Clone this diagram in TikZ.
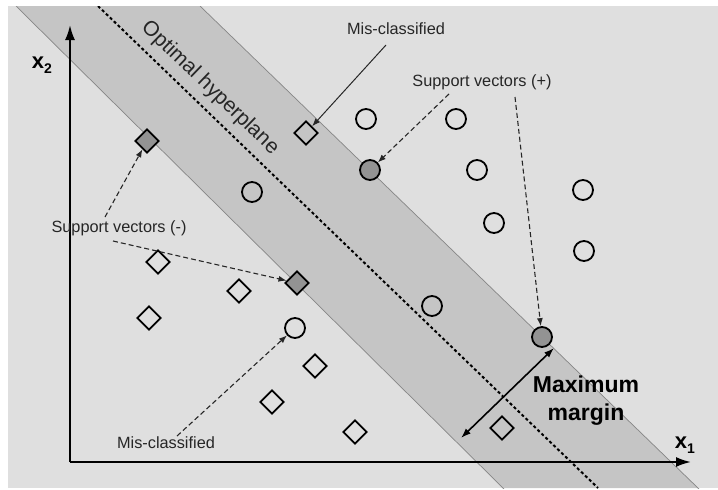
\documentclass[tikz,border=0pt]{standalone}
\usepackage{fontspec}
\setmainfont{Liberation Sans}
\usetikzlibrary{shapes.geometric,arrows.meta}
\definecolor{panel}{HTML}{DFDFDF}
\definecolor{bandc}{HTML}{C5C5C5}
\definecolor{edgec}{HTML}{868686}
\definecolor{svfill}{HTML}{939393}
\definecolor{txt}{HTML}{262626}
\begin{document}
\begin{tikzpicture}[x=1pt,y=-1pt,
  dia/.style={draw=black,line width=1.8pt,diamond,aspect=1,minimum size=24pt,inner sep=0pt},
  cir/.style={draw=black,line width=1.8pt,circle,minimum size=20pt,inner sep=0pt},
  sv/.style={fill=svfill},
  lbl/.style={text=txt,font=\fontsize{16.3}{18}\selectfont,inner sep=1pt},
  tip/.style={-{Latex[length=8pt,width=6pt]}},
  dsh/.style={tip,draw=txt,line width=1.1pt,dash pattern=on 5pt off 3pt},
  axis/.style={line width=2pt,-{Latex[length=15pt,width=10pt]}}]
\useasboundingbox (0,0) rectangle (718,490);
% panel
\fill[panel] (8,6) rectangle (718,488);
% band
\begin{scope}
\clip (8,6) rectangle (718,488);
\fill[bandc] (16,6) -- (200,6) -- (698,488) -- (503,488) -- cycle;
\draw[edgec,line width=0.7pt] (16,6) -- (505,490);
\draw[edgec,line width=0.7pt] (200,6) -- (700,490);
\draw[black,line width=2pt,dash pattern=on 3pt off 2.5pt] (98,6) -- (598,488);
\end{scope}
\node[rotate=-44,text=txt,font=\fontsize{21}{22}\selectfont,inner sep=0pt] (hyp) at (210,88) {Optimal hyperplane};
% axes
\coordinate (o) at (70,462);
\coordinate (xt) at (691,462);
\coordinate (yt) at (70,25);
\draw[axis] (o) -- (xt);
\draw[axis] (o) -- (yt);
\node[font=\fontsize{22}{24}\selectfont\bfseries,inner sep=0pt] (x2) at (42,65) {x\raisebox{-0.25em}{\fontsize{14}{14}\selectfont 2}};
\node[font=\fontsize{22}{24}\selectfont\bfseries,inner sep=0pt] (x1) at (685,445) {x\raisebox{-0.25em}{\fontsize{14}{14}\selectfont 1}};
% diamonds (negative class)
\node[dia,sv] (dsv1) at (147,141) {};
\node[dia,sv] (dsv2) at (297,283) {};
\node[dia] (dmc) at (306,133) {};
\node[dia] (d1) at (158,262) {};
\node[dia] (d2) at (239,291) {};
\node[dia] (d3) at (149,318) {};
\node[dia] (d4) at (315,366) {};
\node[dia] (d5) at (272,402) {};
\node[dia] (d6) at (355,432) {};
\node[dia] (d7) at (502,428) {};
% circles (positive class)
\node[cir,sv] (csv1) at (370,170) {};
\node[cir,sv] (csv2) at (542,337) {};
\node[cir] (cmc) at (295,328) {};
\node[cir] (c1) at (252,192) {};
\node[cir] (c2) at (366,119) {};
\node[cir] (c3) at (456,119) {};
\node[cir] (c4) at (477,170) {};
\node[cir] (c5) at (583,190) {};
\node[cir] (c6) at (494,223) {};
\node[cir] (c7) at (584,251) {};
\node[cir] (c8) at (432,306) {};
% labels
\node[lbl] (mctop) at (396,29) {Mis-classified};
\node[lbl] (svp) at (482,82) {Support vectors (+)};
\node[lbl] (svm) at (119,228) {Support vectors (-)};
\node[lbl] (mcbot) at (166,443) {Mis-classified};
\node[font=\fontsize{23}{28}\selectfont\bfseries,align=center,text=black,inner sep=0pt] (mm) at (586,401) {Maximum\\margin};
% connectors
\coordinate (a1) at (386,45);
\draw[tip,draw=txt,line width=1pt] (a1) -- (dmc);
\coordinate (a2) at (449,94);
\draw[dsh] (a2) -- (csv1);
\coordinate (a3) at (515,97);
\draw[dsh] (a3) -- (csv2);
\coordinate (a4) at (105,217);
\draw[dsh] (a4) -- (dsv1);
\coordinate (a5) at (113,241);
\draw[dsh] (a5) -- (dsv2);
\coordinate (a6) at (177,436);
\draw[dsh] (a6) -- (cmc);
\coordinate (m1) at (461,438);
\coordinate (m2) at (554,348);
\draw[line width=1.6pt,{Latex[length=10pt,width=7pt]}-{Latex[length=10pt,width=7pt]}] (m1) -- (m2);
\end{tikzpicture}
\end{document}
